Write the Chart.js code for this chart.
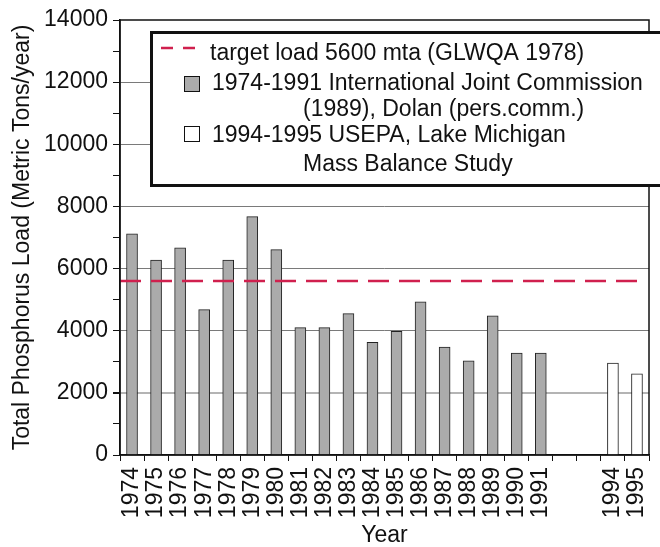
<!DOCTYPE html>
<html>
<head>
<meta charset="utf-8">
<script src="https://cdn.jsdelivr.net/npm/chart.js@4.4.1/dist/chart.umd.min.js"></script>
<style>
html,body{margin:0;padding:0;background:#fff;}
#wrap{width:660px;height:547px;position:relative;}
</style>
</head>
<body>
<div id="wrap"><canvas id="c" width="660" height="547"></canvas></div>
<script>
// ---- data ----
const categories = ['1974','1975','1976','1977','1978','1979','1980','1981','1982','1983','1984','1985','1986','1987','1988','1989','1990','1991','1992','1993','1994','1995'];
const tickLabels = ['1974','1975','1976','1977','1978','1979','1980','1981','1982','1983','1984','1985','1986','1987','1988','1989','1990','1991','','','1994','1995'];
const ijcYears = ['1974','1975','1976','1977','1978','1979','1980','1981','1982','1983','1984','1985','1986','1987','1988','1989','1990','1991'];
const ijcLoads = [7120, 6270, 6670, 4680, 6270, 7670, 6610, 4100, 4100, 4550, 3630, 3980, 4930, 3470, 3030, 4480, 3280, 3280];
const usepaYears = ['1994','1995'];
const usepaLoads = [2960, 2610];
const targetLoad = 5600;
const legendLabels = ['target load 5600 mta (GLWQA 1978)', '1974-1991 International Joint Commission', '(1989), Dolan (pers.comm.)', '1994-1995 USEPA, Lake Michigan', 'Mass Balance Study'];

const FONT = '"Liberation Sans", Arial, Helvetica, sans-serif';
const RED = '#d0204e';
const GRAY = '#ababab';

const ijcData = categories.map(c => { const i = ijcYears.indexOf(c); return i >= 0 ? ijcLoads[i] : null; });
const usepaData = categories.map(c => { const i = usepaYears.indexOf(c); return i >= 0 ? usepaLoads[i] : null; });

// target line drawn through the chart's own scales
const targetPlugin = {
  id: 'target',
  afterDatasetsDraw(chart) {
    const {ctx, chartArea: a, scales: {x, y}} = chart;
    const py = y.getPixelForValue(targetLoad);
    const xEnd = x.getPixelForValue(categories.length - 1) + 1.5;
    ctx.save();
    ctx.strokeStyle = RED;
    ctx.lineWidth = 2.5;
    ctx.setLineDash([21, 10]);
    ctx.beginPath(); ctx.moveTo(a.left, py); ctx.lineTo(xEnd, py); ctx.stroke();
    ctx.restore();
  }
};

const framePlugin = {
  id: 'frame',
  afterDatasetsDraw(chart) {
    const {ctx, chartArea: a} = chart;
    ctx.save();
    ctx.strokeStyle = '#111';
    ctx.lineWidth = 1.5;
    ctx.strokeRect(a.left, a.top, a.right - a.left, a.bottom - a.top);
    ctx.restore();
  }
};

const legendPlugin = {
  id: 'boxLegend',
  afterDraw(chart) {
    const ctx = chart.ctx;
    ctx.save();
    ctx.fillStyle = '#fff';
    ctx.fillRect(150, 31, 530, 156);
    ctx.strokeStyle = '#111';
    ctx.lineWidth = 3;
    ctx.strokeRect(151.5, 32.5, 530, 153);
    // dashed sample
    ctx.strokeStyle = RED;
    ctx.lineWidth = 2.5;
    ctx.setLineDash([12, 10]);
    ctx.beginPath(); ctx.moveTo(161, 48); ctx.lineTo(196, 48); ctx.stroke();
    ctx.setLineDash([]);
    // squares
    ctx.lineWidth = 1;
    ctx.strokeStyle = '#111';
    ctx.fillStyle = GRAY;
    ctx.fillRect(184.5, 76.5, 15, 15); ctx.strokeRect(184.5, 76.5, 15, 15);
    ctx.fillStyle = '#fff';
    ctx.fillRect(184.5, 126.5, 15, 15); ctx.strokeRect(184.5, 126.5, 15, 15);
    // text
    ctx.fillStyle = '#111';
    ctx.font = '23px ' + FONT;
    ctx.textBaseline = 'alphabetic';
    ctx.textAlign = 'left';
    ctx.fillText(legendLabels[0], 210, 60);
    ctx.fillText(legendLabels[1], 212, 90);
    ctx.fillText(legendLabels[2], 303, 116);
    ctx.fillText(legendLabels[3], 212, 142);
    ctx.fillText(legendLabels[4], 303, 171);
    ctx.restore();
  }
};

new Chart(document.getElementById('c'), {
  data: {
    labels: categories,
    datasets: [
      {
        type: 'bar',
        label: legendLabels[1],
        data: ijcData,
        backgroundColor: GRAY,
        borderColor: '#222',
        borderWidth: 1,
        barThickness: 11,
        grouped: false
      },
      {
        type: 'bar',
        label: legendLabels[3],
        data: usepaData,
        backgroundColor: '#fff',
        borderColor: '#222',
        borderWidth: 1,
        barThickness: 11,
        grouped: false
      }
    ]
  },
  options: {
    responsive: false,
    animation: false,
    devicePixelRatio: 1,
    layout: { padding: { top: 20, right: 11, left: 0, bottom: 0 } },
    plugins: { legend: { display: false }, tooltip: { enabled: false } },
    scales: {
      x: {
        type: 'category',
        offset: true,
        afterFit(s) { s.height = 92; s.paddingLeft = 0; s.paddingRight = 0; },
        grid: { offset: true, drawOnChartArea: false, drawTicks: true, tickLength: 6, tickColor: '#111', color: '#111' },
        border: { display: true, color: '#111', width: 1.5 },
        ticks: {
          autoSkip: false, minRotation: 90, maxRotation: 90, padding: 6,
          color: '#111', font: { family: FONT, size: 23 },
          callback: (v, i) => tickLabels[i]
        },
        title: { display: true, text: 'Year', color: '#111', font: { family: FONT, size: 23, lineHeight: 1 }, padding: { top: 0, bottom: 0 } }
      },
      y: {
        min: 0, max: 14000,
        afterFit(s) { s.width = 120; s.paddingTop = 0; s.paddingBottom = 0; },
        grid: {
          drawTicks: true, tickLength: 7, tickColor: '#111',
          color: c => { const v = c.tick && c.tick.value; if (v === 2000) return '#b4b4b4'; return (v > 0 && v < 14000 && v % 2000 === 0) ? '#7a7a7a' : 'rgba(0,0,0,0)'; },
          lineWidth: c => (c.tick && c.tick.value === 2000) ? 2 : 1
        },
        border: { display: true, color: '#111', width: 1.5 },
        ticks: {
          stepSize: 1000, autoSkip: false, padding: 5,
          color: '#111', font: { family: FONT, size: 23 },
          callback: v => (v % 2000 === 0 ? String(v) : '')
        },
        title: { display: true, text: 'Total Phosphorus Load (Metric Tons/year)', color: '#111', font: { family: FONT, size: 23, lineHeight: 1 }, padding: { top: 11, bottom: 0 } }
      }
    }
  },
  plugins: [targetPlugin, framePlugin, legendPlugin]
});
</script>
</body>
</html>
